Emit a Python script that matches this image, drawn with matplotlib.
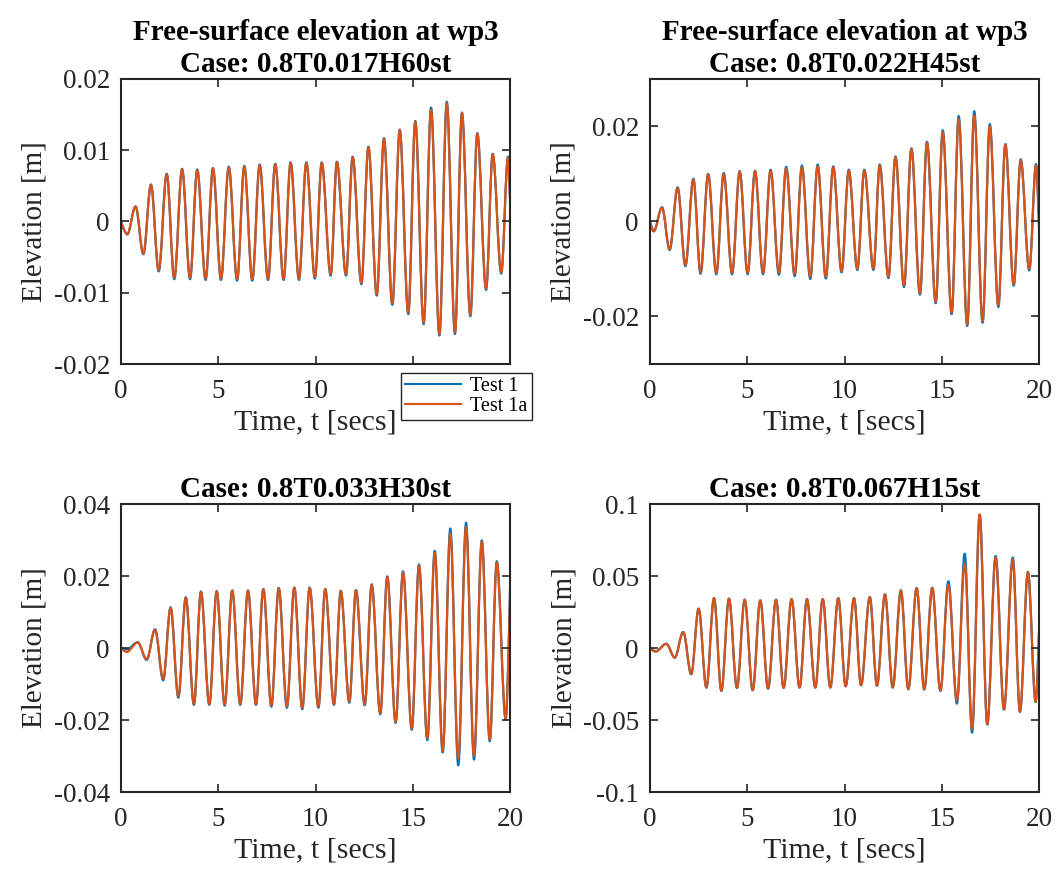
"""Free-surface elevation at wp3: Test 1 vs Test 1a for four wave cases."""

import matplotlib

matplotlib.use("Agg")
import matplotlib.pyplot as plt
from matplotlib.lines import Line2D
from matplotlib.patches import PathPatch
from matplotlib.path import Path

# =============================================================================
# Data: wave crests / troughs (time [s], elevation [m])
# =============================================================================

CASES = ["0.8T0.017H60st", "0.8T0.022H45st", "0.8T0.033H30st", "0.8T0.067H15st"]
SERIES_NAMES = ["Test 1", "Test 1a"]

CASE1_TIME = [0, 0.32, 0.75, 1.15, 1.54, 1.94, 2.35, 2.74, 3.14, 3.55, 3.92, 4.35, 4.73,
              5.14, 5.54, 5.97, 6.34, 6.75, 7.13, 7.56, 7.93, 8.36, 8.72, 9.15, 9.53, 9.97,
              10.32, 10.78, 11.1, 11.57, 11.91, 12.36, 12.72, 13.15, 13.52, 13.95, 14.33,
              14.77, 15.13, 15.56, 15.94, 16.37, 16.75, 17.17, 17.53, 17.96, 18.32, 18.77,
              19.11, 19.55, 19.90, 20.0]
CASE1_TEST1 = [0, -0.0018, 0.0021, -0.0046, 0.0052, -0.0070, 0.0067, -0.0081, 0.0074, -0.0081,
               0.0073, -0.0082, 0.0075, -0.0082, 0.0077, -0.0083, 0.0078, -0.0083, 0.0080,
               -0.0082, 0.0081, -0.0082, 0.0083, -0.0082, 0.0083, -0.0080, 0.0083, -0.0076,
               0.0084, -0.0076, 0.0091, -0.0088, 0.0105, -0.0104, 0.0117, -0.0117, 0.0129,
               -0.0130, 0.0141, -0.0144, 0.0160, -0.0160, 0.0168, -0.0158, 0.0153, -0.0133,
               0.0124, -0.0096, 0.0095, -0.0073, 0.0091, 0.0033]
CASE1_TEST1A = [0, -0.0018, 0.0021, -0.0045, 0.0051, -0.0068, 0.0066, -0.0079, 0.0073, -0.0079,
                0.0072, -0.0080, 0.0074, -0.0080, 0.0076, -0.0081, 0.0077, -0.0081, 0.0079,
                -0.0080, 0.0080, -0.0080, 0.0082, -0.0080, 0.0082, -0.0078, 0.0082, -0.0074,
                0.0083, -0.0074, 0.0090, -0.0086, 0.0104, -0.0102, 0.0116, -0.0115, 0.0128,
                -0.0128, 0.0140, -0.0142, 0.0157, -0.0158, 0.0166, -0.0156, 0.0152, -0.0131,
                0.0123, -0.0094, 0.0094, -0.0071, 0.0090, 0.0033]

CASE2_TIME = [0, 0.19, 0.62, 1.01, 1.42, 1.82, 2.23, 2.60, 2.99, 3.41, 3.79, 4.22, 4.61, 5.02,
              5.40, 5.81, 6.20, 6.63, 7.00, 7.44, 7.81, 8.24, 8.62, 9.04, 9.42, 9.85, 10.22,
              10.66, 11.02, 11.49, 11.81, 12.26, 12.62, 13.06, 13.44, 13.88, 14.24, 14.69,
              15.05, 15.51, 15.87, 16.31, 16.67, 17.10, 17.47, 17.91, 18.27, 18.70, 19.06,
              19.50, 19.85, 20.0]
CASE2_TEST1 = [0, -0.0021, 0.0030, -0.0060, 0.0072, -0.0094, 0.0090, -0.0110, 0.0100, -0.0111,
               0.0102, -0.0111, 0.0106, -0.0111, 0.0107, -0.0111, 0.0109, -0.0112, 0.0115,
               -0.0115, 0.0118, -0.0121, 0.0120, -0.0120, 0.0116, -0.0107, 0.0109, -0.0102,
               0.0109, -0.0102, 0.0120, -0.0119, 0.0137, -0.0138, 0.0154, -0.0154, 0.0168,
               -0.0172, 0.0192, -0.0195, 0.0222, -0.0220, 0.0232, -0.0213, 0.0205, -0.0180,
               0.0163, -0.0135, 0.0131, -0.0103, 0.0121, -0.0010]
CASE2_TEST1A = [0, -0.0020, 0.0029, -0.0058, 0.0070, -0.0091, 0.0088, -0.0107, 0.0099, -0.0108,
                0.0100, -0.0108, 0.0105, -0.0108, 0.0106, -0.0108, 0.0107, -0.0108, 0.0112,
                -0.0111, 0.0114, -0.0116, 0.0116, -0.0116, 0.0114, -0.0104, 0.0107, -0.0099,
                0.0107, -0.0099, 0.0118, -0.0116, 0.0135, -0.0135, 0.0152, -0.0151, 0.0166,
                -0.0169, 0.0188, -0.0191, 0.0216, -0.0217, 0.0223, -0.0210, 0.0200, -0.0177,
                0.0161, -0.0132, 0.0129, -0.0100, 0.0119, -0.0010]

CASE3_TIME = [0, 0.29, 0.86, 1.32, 1.75, 2.17, 2.55, 2.95, 3.33, 3.75, 4.11, 4.54, 4.92, 5.33,
              5.72, 6.13, 6.53, 6.94, 7.32, 7.73, 8.11, 8.53, 8.91, 9.32, 9.70, 10.15, 10.50,
              10.95, 11.30, 11.74, 12.08, 12.53, 12.89, 13.33, 13.69, 14.12, 14.50, 14.95,
              15.32, 15.75, 16.13, 16.54, 16.93, 17.34, 17.74, 18.15, 18.55, 18.96, 19.32,
              19.78, 20.0]
CASE3_TEST1 = [0, -0.0004, 0.0016, -0.0033, 0.0052, -0.0090, 0.0113, -0.0138, 0.0141, -0.0158,
               0.0157, -0.0158, 0.0158, -0.0160, 0.0160, -0.0158, 0.0160, -0.0158, 0.0164,
               -0.0163, 0.0167, -0.0166, 0.0168, -0.0170, 0.0168, -0.0166, 0.0164, -0.0158,
               0.0159, -0.0152, 0.0161, -0.0159, 0.0177, -0.0184, 0.0199, -0.0208, 0.0213,
               -0.0227, 0.0232, -0.0256, 0.0270, -0.0290, 0.0332, -0.0326, 0.0348, -0.0310,
               0.0299, -0.0259, 0.0241, -0.0199, 0.0165]
CASE3_TEST1A = [0, -0.0011, 0.0015, -0.0031, 0.0050, -0.0086, 0.0111, -0.0134, 0.0139, -0.0155,
                0.0155, -0.0156, 0.0157, -0.0157, 0.0159, -0.0156, 0.0159, -0.0156, 0.0163,
                -0.0160, 0.0166, -0.0162, 0.0167, -0.0166, 0.0167, -0.0163, 0.0163, -0.0155,
                0.0158, -0.0149, 0.0160, -0.0156, 0.0175, -0.0181, 0.0196, -0.0205, 0.0210,
                -0.0223, 0.0229, -0.0251, 0.0264, -0.0285, 0.0318, -0.0307, 0.0336, -0.0300,
                0.0295, -0.0254, 0.0237, -0.0195, 0.0137]

CASE4_TIME = [0, 0.29, 0.84, 1.27, 1.71, 2.12, 2.50, 2.90, 3.29, 3.67, 4.06, 4.47, 4.87, 5.28,
              5.67, 6.07, 6.48, 6.87, 7.28, 7.69, 8.07, 8.50, 8.88, 9.27, 9.68, 10.06, 10.49,
              10.85, 11.30, 11.67, 12.08, 12.48, 12.90, 13.28, 13.71, 14.10, 14.51, 14.93,
              15.34, 15.78, 16.18, 16.56, 16.95, 17.34, 17.77, 18.20, 18.65, 19.02, 19.43,
              19.83, 20.0]
CASE4_TEST1 = [0, -0.0023, 0.0030, -0.0067, 0.0111, -0.0183, 0.0274, -0.0275, 0.0347, -0.0298,
               0.0343, -0.0277, 0.0336, -0.0294, 0.0331, -0.0282, 0.0336, -0.0277, 0.0340,
               -0.0275, 0.0340, -0.0275, 0.0340, -0.0275, 0.0347, -0.0266, 0.0347, -0.0259,
               0.0354, -0.0262, 0.0373, -0.0275, 0.0401, -0.0287, 0.0417, -0.0289, 0.0419,
               -0.0298, 0.0463, -0.0386, 0.0655, -0.0588, 0.0926, -0.0532, 0.0639, -0.0428,
               0.0628, -0.0444, 0.0528, -0.0375, 0.0111]
CASE4_TEST1A = [0, -0.0025, 0.0028, -0.0066, 0.0110, -0.0180, 0.0272, -0.0275, 0.0347, -0.0296,
                0.0342, -0.0276, 0.0335, -0.0292, 0.0330, -0.0281, 0.0335, -0.0276, 0.0339,
                -0.0274, 0.0339, -0.0274, 0.0339, -0.0274, 0.0345, -0.0265, 0.0345, -0.0258,
                0.0352, -0.0261, 0.0371, -0.0273, 0.0398, -0.0285, 0.0414, -0.0287, 0.0416,
                -0.0295, 0.0440, -0.0363, 0.0586, -0.0560, 0.0926, -0.0528, 0.0630, -0.0425,
                0.0614, -0.0440, 0.0525, -0.0372, 0.0111]

Y_LIMITS = [0.02, 0.03, 0.04, 0.1]
Y_TICKS = [
    [-0.02, -0.01, 0, 0.01, 0.02],
    [-0.02, 0, 0.02],
    [-0.04, -0.02, 0, 0.02, 0.04],
    [-0.1, -0.05, 0, 0.05, 0.1],
]
X_TICKS = [0, 5, 10, 15, 20]
# the legend hides these x tick labels of the first panel in the reference
HIDDEN_X_LABELS_PANEL1 = [15, 20]

# =============================================================================
# Styling
# =============================================================================

FIG_W, FIG_H = 1057, 880
DPI = 100
COLORS = ["#0072BD", "#D95319"]
AX_COLOR = "#262626"
# axes boxes in pixels: (left, top, right, bottom)
AX_BOXES = [(121, 79, 510, 364), (650, 79, 1039, 364),
            (121, 504, 510, 792), (650, 504, 1039, 792)]

plt.rcParams["font.family"] = ["Liberation Serif", "DejaVu Serif"]
plt.rcParams["axes.unicode_minus"] = False


def wave_path(times, values, k=0.36):
    """Smooth path through successive crests/troughs using cubic Bezier pieces."""
    verts = [(times[0], values[0])]
    codes = [Path.MOVETO]
    last = len(times) - 1
    for i in range(last):
        dt = times[i + 1] - times[i]
        c1 = (times[i], values[i]) if i == 0 else (times[i] + k * dt, values[i])
        if i + 1 == last:
            c2 = (times[i + 1], values[i + 1])
        else:
            c2 = (times[i + 1] - k * dt, values[i + 1])
        verts += [c1, c2, (times[i + 1], values[i + 1])]
        codes += [Path.CURVE4] * 3
    return Path(verts, codes)


def style_axes(ax, ylim, yticks, hidden_x=()):
    ax.set_xlim(0, 20)
    ax.set_ylim(-ylim, ylim)
    ax.set_xticks(X_TICKS)
    ax.set_xticklabels(["" if x in hidden_x else str(x) for x in X_TICKS])
    ax.set_yticks(yticks)
    ax.set_yticklabels([f"{y:g}" for y in yticks])
    ax.tick_params(direction="in", length=6, width=1.2, top=True, right=True,
                   labelsize=19.5, colors=AX_COLOR)
    ax.tick_params(axis="x", pad=11)
    ax.tick_params(axis="y", pad=8)
    for spine in ax.spines.values():
        spine.set_linewidth(1.5)
        spine.set_color(AX_COLOR)
    ax.set_xlabel("Time, t [secs]", fontsize=21.5, color=AX_COLOR, labelpad=4)
    ax.set_ylabel("Elevation [m]", fontsize=21, color=AX_COLOR, labelpad=4)


def main() -> None:
    fig = plt.figure(figsize=(FIG_W / DPI, FIG_H / DPI), dpi=DPI)

    cases = [
        (CASE1_TIME, CASE1_TEST1, CASE1_TEST1A),
        (CASE2_TIME, CASE2_TEST1, CASE2_TEST1A),
        (CASE3_TIME, CASE3_TEST1, CASE3_TEST1A),
        (CASE4_TIME, CASE4_TEST1, CASE4_TEST1A),
    ]

    for idx, (times, test1, test1a) in enumerate(cases):
        left, top, right, bottom = AX_BOXES[idx]
        ax = fig.add_axes([left / FIG_W, 1 - bottom / FIG_H,
                           (right - left) / FIG_W, (bottom - top) / FIG_H])
        for values, color in zip((test1, test1a), COLORS):
            ax.add_patch(PathPatch(wave_path(times, values), facecolor="none",
                                   edgecolor=color, linewidth=1.6, capstyle="round",
                                   joinstyle="round"))
        hidden = HIDDEN_X_LABELS_PANEL1 if idx == 0 else ()
        style_axes(ax, Y_LIMITS[idx], Y_TICKS[idx], hidden)
        if idx < 2:
            title = f"Free-surface elevation at wp3\nCase: {CASES[idx]}"
        else:
            title = f"Case: {CASES[idx]}"
        ax.set_title(title, fontsize=21, fontweight="bold", linespacing=1.25, pad=5)

    handles = [Line2D([], [], color=c, linewidth=1.5) for c in COLORS]
    leg = fig.legend(handles, SERIES_NAMES, loc="upper left",
                     bbox_to_anchor=(401 / FIG_W, 1 - 373 / FIG_H), fontsize=14.5,
                     frameon=True, fancybox=False, edgecolor=AX_COLOR, framealpha=1,
                     borderaxespad=0, handlelength=2.8, handletextpad=0.45,
                     borderpad=0.2, labelspacing=0.05)
    leg.get_frame().set_linewidth(1.0)

    fig.savefig("out.png", dpi=DPI)


if __name__ == "__main__":
    main()
